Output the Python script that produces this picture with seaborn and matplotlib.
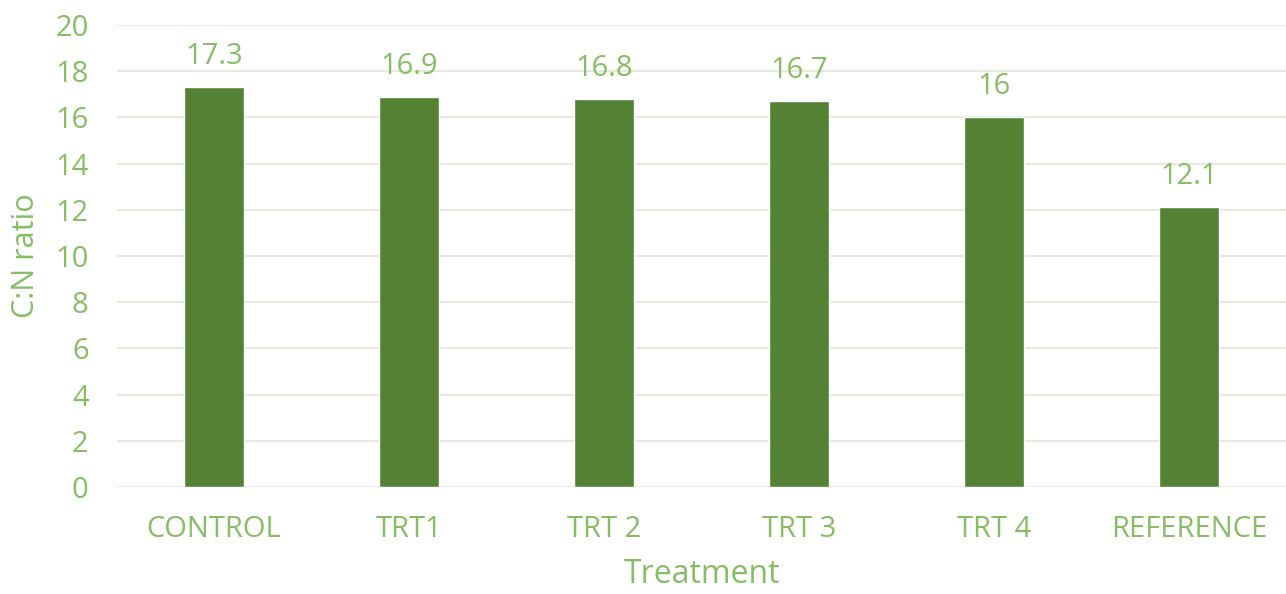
import matplotlib
matplotlib.use("Agg")
import matplotlib.pyplot as plt
import seaborn as sns
import pandas as pd

categories = ["CONTROL", "TRT1", "TRT 2", "TRT 3", "TRT 4", "REFERENCE"]
values = [17.3, 16.9, 16.8, 16.7, 16.0, 12.1]
value_labels = ["17.3", "16.9", "16.8", "16.7", "16", "12.1"]
y_ticks = [0, 2, 4, 6, 8, 10, 12, 14, 16, 18, 20]

bar_color = "#548235"
text_color = "#86BD65"
grid_color = "#E3EBDC"

sns.set_theme(style="white")
plt.rcParams["font.family"] = ["Open Sans", "DejaVu Sans"]

df = pd.DataFrame({"Treatment": categories, "value": values})

fig = plt.figure(figsize=(12.86, 5.94), dpi=100)
ax = fig.add_axes([0.0906, 0.180, 0.9098, 0.778])
sns.barplot(data=df, x="Treatment", y="value", color=bar_color, width=0.31,
            saturation=1, ax=ax, zorder=3)

ax.set_ylim(0, 20)
ax.set_xlim(-0.5, len(categories) - 0.5)
ax.set_yticks(y_ticks)
ax.yaxis.grid(True, color=grid_color, linewidth=1.5, zorder=0)
ax.xaxis.grid(False)
for s in ax.spines.values():
    s.set_visible(False)
ax.tick_params(axis="both", length=0, labelsize=21, labelcolor=text_color)
ax.tick_params(axis="x", pad=20)
ax.tick_params(axis="y", pad=20)

for p, lab in zip(ax.patches, value_labels):
    ax.annotate(lab, (p.get_x() + p.get_width() / 2, p.get_height()),
                xytext=(0, 22), textcoords="offset points", ha="center",
                va="center", fontsize=21, color=text_color)

ax.set_xlabel("Treatment", fontsize=23, color=text_color, labelpad=10)
ax.set_ylabel("C:N ratio", fontsize=22, color=text_color, labelpad=10)

fig.savefig("out.png", dpi=100)
